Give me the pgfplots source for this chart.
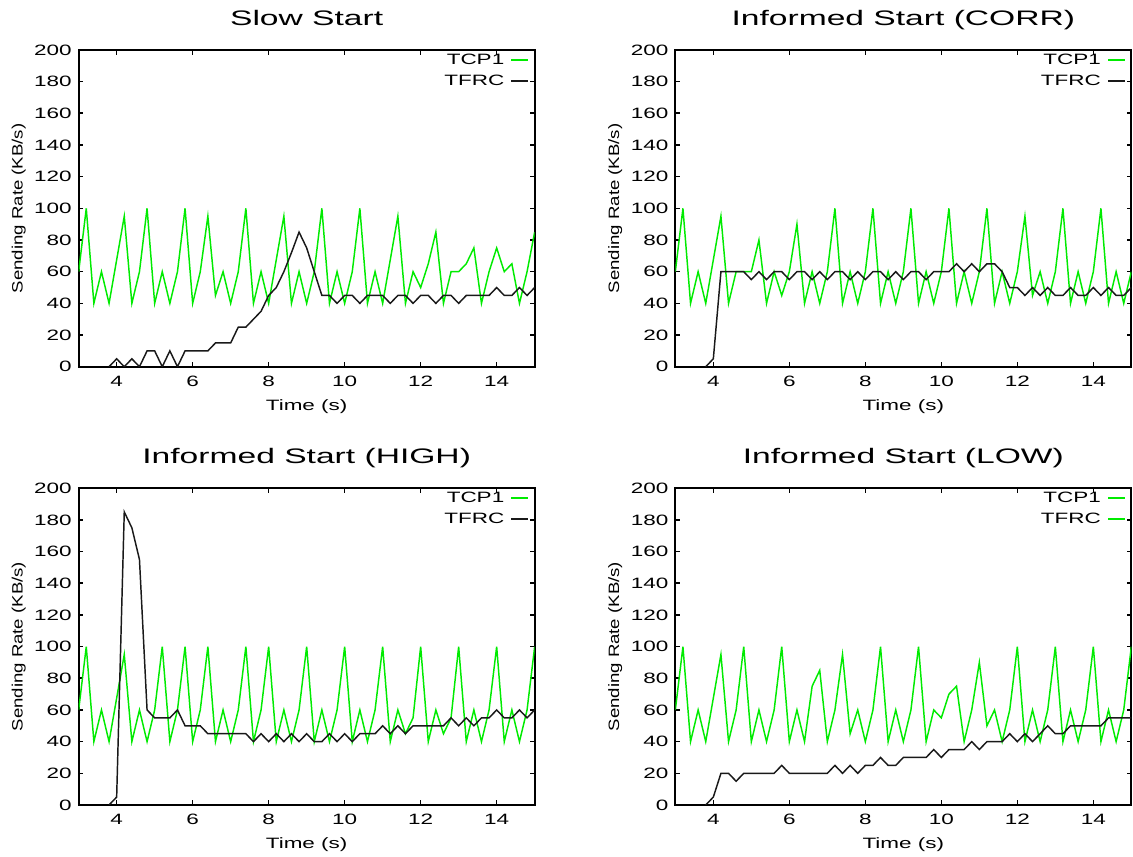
\documentclass[border=0pt]{standalone}
\usepackage{pgfplots}
\pgfplotsset{compat=1.18}
\usepackage{fontspec}
\setmainfont{Liberation Sans}[FakeStretch=1.5]
\newfontfamily\ylabfont{Liberation Sans}[FakeStretch=1.24]
\newfontfamily\titlefont{Liberation Sans}[FakeStretch=1.6]
\definecolor{tcpgreen}{RGB}{0,235,0}
\definecolor{tfrcblack}{RGB}{25,25,25}
\pgfplotsset{
  panel/.style={
    scale only axis, width=342pt, height=237.6pt, anchor=south west,
    xmin=3, xmax=15, ymin=0, ymax=200,
    xtick={4,6,8,10,12,14}, ytick={0,20,...,200},
    axis line style={line width=1.5pt, black},
    tick style={line width=1.2pt, black},
    major tick length=3.5pt,
    tick align=inside,
    /pgf/number format/assume math mode=true,
    tick label style={font=\fontsize{11.25}{13}\selectfont},
    yticklabel style={anchor=east, inner sep=0pt, xshift=-5pt},
    xticklabel style={anchor=base, inner sep=0pt, yshift=-14.6pt},
    title style={at={(axis description cs:0.5,1.052)}, anchor=base, font=\titlefont\fontsize{15.75}{19}\selectfont, inner sep=0pt},
    every axis x label/.style={at={(axis description cs:0.5,-0.138)}, anchor=base, font=\fontsize{11.25}{13}\selectfont, inner sep=0pt},
    every axis y label/.style={at={(axis description cs:-0.1316,0.5)}, anchor=center, rotate=90, font=\ylabfont\fontsize{11.25}{13}\selectfont, inner sep=0pt},
    xlabel={Time (s)}, ylabel={Sending Rate (KB/s)},
    legend style={at={(axis description cs:1,1)}, anchor=north east, draw=none, fill=none, inner sep=0pt, xshift=-4pt, yshift=-1.5pt, font=\fontsize{11.25}{13}\selectfont, row sep=4pt, column sep=3.5pt, nodes={inner sep=1.2pt}},
    legend cell align=right, legend plot pos=right,
    legend image code/.code={\draw[##1, line width=1.4pt] (0pt,0pt) -- (12.5pt,0pt);},
  },
  tcp/.style={tcpgreen, line width=1.1pt, mark=none},
  tfrc/.style={tfrcblack, line width=1.1pt, mark=none},
}
\begin{document}
\begin{tikzpicture}
\useasboundingbox (0,0) rectangle (849.75pt,642.75pt);
% ---------------- Slow Start ----------------
\begin{axis}[panel, at={(59pt,367.7pt)}, title={Slow Start}]
\addplot[tcp] coordinates {(3.0,60)(3.2,100)(3.4,40)(3.6,60)(3.8,40)(4.2,95)(4.4,40)(4.6,60)(4.8,100)(5.0,40)(5.2,60)(5.4,40)(5.6,60)(5.8,100)(6.0,40)(6.2,60)(6.4,95)(6.6,45)(6.8,60)(7.0,40)(7.2,60)(7.4,100)(7.6,40)(7.8,60)(8.0,40)(8.4,95)(8.6,40)(8.8,60)(9.0,40)(9.2,60)(9.4,100)(9.6,40)(9.8,60)(10.0,40)(10.2,60)(10.4,100)(10.6,40)(10.8,60)(11.0,40)(11.4,95)(11.6,40)(11.8,60)(12.0,50)(12.2,65)(12.4,85)(12.6,40)(12.8,60)(13.0,60)(13.2,65)(13.4,75)(13.6,40)(13.8,60)(14.0,75)(14.2,60)(14.4,65)(14.6,40)(14.8,60)(15.0,85)};
\addlegendentry{TCP1}
\addplot[tfrc] coordinates {(3.8,0)(4.0,5)(4.2,0)(4.4,5)(4.6,0)(4.8,10)(5.0,10)(5.2,0)(5.4,10)(5.6,0)(5.8,10)(6.0,10)(6.4,10)(6.6,15)(7.0,15)(7.2,25)(7.4,25)(7.6,30)(7.8,35)(8.0,45)(8.2,50)(8.4,60)(8.6,72)(8.8,85)(9.0,75)(9.2,60)(9.4,45)(9.6,45)(9.8,40)(10.0,45)(10.2,45)(10.4,40)(10.6,45)(11.0,45)(11.2,40)(11.4,45)(11.6,45)(11.8,40)(12.0,45)(12.2,45)(12.4,40)(12.6,45)(12.8,45)(13.0,40)(13.2,45)(13.8,45)(14.0,50)(14.2,45)(14.4,45)(14.6,50)(14.8,45)(15.0,50)};
\addlegendentry{TFRC}
\end{axis}
% ---------------- Informed Start (CORR) ----------------
\begin{axis}[panel, at={(506.5pt,367.7pt)}, title={Informed Start (CORR)}]
\addplot[tcp] coordinates {(3.0,60)(3.2,100)(3.4,40)(3.6,60)(3.8,40)(4.2,95)(4.4,40)(4.6,60)(5.0,60)(5.2,80)(5.4,40)(5.6,60)(5.8,45)(6.0,60)(6.2,90)(6.4,40)(6.6,60)(6.8,40)(7.0,60)(7.2,100)(7.4,40)(7.6,60)(7.8,40)(8.0,60)(8.2,100)(8.4,40)(8.6,60)(8.8,40)(9.0,60)(9.2,100)(9.4,40)(9.6,60)(9.8,40)(10.0,60)(10.2,100)(10.4,40)(10.6,60)(10.8,40)(11.0,60)(11.2,100)(11.4,40)(11.6,60)(11.8,40)(12.0,60)(12.2,95)(12.4,45)(12.6,60)(12.8,40)(13.0,60)(13.2,100)(13.4,40)(13.6,60)(13.8,40)(14.0,60)(14.2,100)(14.4,40)(14.6,60)(14.8,40)(15.0,60)};
\addlegendentry{TCP1}
\addplot[tfrc] coordinates {(3.8,0)(4.0,5)(4.2,60)(4.8,60)(5.0,55)(5.2,60)(5.4,55)(5.6,60)(5.8,60)(6.0,55)(6.2,60)(6.4,60)(6.6,55)(6.8,60)(7.0,55)(7.2,60)(7.4,60)(7.6,55)(7.8,60)(8.0,55)(8.2,60)(8.4,60)(8.6,55)(8.8,60)(9.0,55)(9.2,60)(9.4,60)(9.6,55)(9.8,60)(10.2,60)(10.4,65)(10.6,60)(10.8,65)(11.0,60)(11.2,65)(11.4,65)(11.6,60)(11.8,50)(12.0,50)(12.2,45)(12.4,50)(12.6,45)(12.8,50)(13.0,45)(13.2,45)(13.4,50)(13.6,45)(13.8,45)(14.0,50)(14.2,45)(14.4,50)(14.6,45)(14.8,45)(15.0,50)};
\addlegendentry{TFRC}
\end{axis}
% ---------------- Informed Start (HIGH) ----------------
\begin{axis}[panel, at={(59pt,39pt)}, title={Informed Start (HIGH)}]
\addplot[tcp] coordinates {(3.0,60)(3.2,100)(3.4,40)(3.6,60)(3.8,40)(4.2,95)(4.4,40)(4.6,60)(4.8,40)(5.0,60)(5.2,100)(5.4,40)(5.6,60)(5.8,100)(6.0,40)(6.2,60)(6.4,100)(6.6,40)(6.8,60)(7.0,40)(7.2,60)(7.4,100)(7.6,40)(7.8,60)(8.0,100)(8.2,40)(8.4,60)(8.6,40)(8.8,60)(9.0,100)(9.2,40)(9.4,60)(9.6,40)(9.8,60)(10.0,100)(10.2,40)(10.4,60)(10.6,40)(10.8,60)(11.0,100)(11.2,40)(11.4,60)(11.6,45)(11.8,55)(12.0,100)(12.2,40)(12.4,60)(12.6,45)(12.8,55)(13.0,100)(13.2,40)(13.4,60)(13.6,40)(13.8,60)(14.0,100)(14.2,40)(14.4,60)(14.6,40)(14.8,60)(15.0,100)};
\addlegendentry{TCP1}
\addplot[tfrc] coordinates {(3.8,0)(4.0,5)(4.2,185)(4.4,175)(4.6,155)(4.8,60)(5.0,55)(5.4,55)(5.6,60)(5.8,50)(6.2,50)(6.4,45)(7.4,45)(7.6,40)(7.8,45)(8.0,40)(8.2,45)(8.4,40)(8.6,45)(8.8,40)(9.0,45)(9.2,40)(9.4,40)(9.6,45)(9.8,40)(10.0,45)(10.2,40)(10.4,45)(10.8,45)(11.0,50)(11.2,45)(11.4,50)(11.6,45)(11.8,50)(12.6,50)(12.8,55)(13.0,50)(13.2,55)(13.4,50)(13.6,55)(13.8,55)(14.0,60)(14.2,55)(14.4,55)(14.6,60)(14.8,55)(15.0,60)};
\addlegendentry{TFRC}
\end{axis}
% ---------------- Informed Start (LOW) ----------------
\begin{axis}[panel, at={(506.5pt,39pt)}, title={Informed Start (LOW)}]
\addplot[tcp] coordinates {(3.0,60)(3.2,100)(3.4,40)(3.6,60)(3.8,40)(4.2,95)(4.4,40)(4.6,60)(4.8,100)(5.0,40)(5.2,60)(5.4,40)(5.6,60)(5.8,100)(6.0,40)(6.2,60)(6.4,40)(6.6,75)(6.8,85)(7.0,40)(7.2,60)(7.4,95)(7.6,45)(7.8,60)(8.0,40)(8.2,60)(8.4,100)(8.6,40)(8.8,60)(9.0,40)(9.2,60)(9.4,100)(9.6,40)(9.8,60)(10.0,55)(10.2,70)(10.4,75)(10.6,40)(10.8,60)(11.0,90)(11.2,50)(11.4,60)(11.6,40)(11.8,60)(12.0,100)(12.2,40)(12.4,60)(12.6,40)(12.8,60)(13.0,100)(13.2,40)(13.4,60)(13.6,40)(13.8,60)(14.0,100)(14.2,40)(14.4,60)(14.6,40)(14.8,60)(15.0,100)};
\addlegendentry{TCP1}
\addplot[tfrc, legend image code/.code={\draw[tcpgreen, line width=1.4pt] (0pt,0pt) -- (12.5pt,0pt);}] coordinates {(3.8,0)(4.0,5)(4.2,20)(4.4,20)(4.6,15)(4.8,20)(5.6,20)(5.8,25)(6.0,20)(7.0,20)(7.2,25)(7.4,20)(7.6,25)(7.8,20)(8.0,25)(8.2,25)(8.4,30)(8.6,25)(8.8,25)(9.0,30)(9.6,30)(9.8,35)(10.0,30)(10.2,35)(10.6,35)(10.8,40)(11.0,35)(11.2,40)(11.6,40)(11.8,45)(12.0,40)(12.2,45)(12.4,40)(12.6,45)(12.8,50)(13.0,45)(13.2,45)(13.4,50)(14.2,50)(14.4,55)(15.0,55)};
\addlegendentry{TFRC}
\end{axis}
\end{tikzpicture}
\end{document}
